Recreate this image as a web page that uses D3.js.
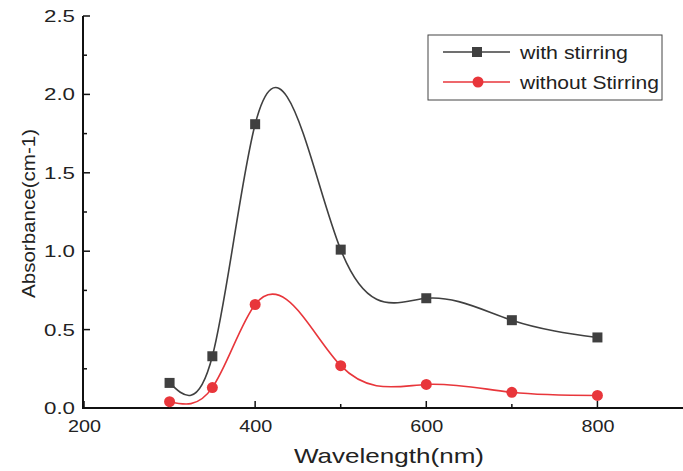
<!DOCTYPE html>
<html>
<head>
<meta charset="utf-8">
<script src="https://cdn.jsdelivr.net/npm/d3@7"></script>
<style>
  body { margin: 0; background: #fff; }
  svg { display: block; font-family: "Liberation Sans", Arial, sans-serif; }
</style>
</head>
<body>
<svg id="chart" width="683" height="471"></svg>
<script>
  'use strict';

  // wavelengths (nm)
  var wavelengths = [300, 350, 400, 500, 600, 700, 800];
  // absorbance values
  var withStirring = [0.16, 0.33, 1.81, 1.01, 0.70, 0.56, 0.45];
  var withoutStirring = [0.04, 0.13, 0.66, 0.27, 0.15, 0.10, 0.08];
  var seriesNames = ['with stirring', 'without Stirring'];
  var seriesColors = ['#404040', '#e8363b'];
  var xTicks = [200, 400, 600, 800];
  var yTicks = [0, 0.5, 1.0, 1.5, 2.0, 2.5];

  var svg = d3.select('#chart');

  var x = d3.scaleLinear().domain([200, 900]).range([84, 683]);
  var y = d3.scaleLinear().domain([0, 2.5]).range([408, 16]);

  var xMinor = d3.range(300, 900, 200);
  var yMinor = d3.range(0.25, 2.5, 0.5);

  var axisColor = '#111', textColor = '#222';

  // cubic spline through the points, as a function of x (like Origin's spline)
  function SplineX(context) { this._context = context; }
  SplineX.prototype = {
    areaStart: function () { this._line = 0; },
    areaEnd: function () { this._line = NaN; },
    lineStart: function () { this._px = []; this._py = []; },
    point: function (px, py) { this._px.push(+px); this._py.push(+py); },
    lineEnd: function () {
      var X = this._px, Y = this._py, n = X.length, ctx = this._context, i;
      if (!n) return;
      ctx.moveTo(X[0], Y[0]);
      if (n === 2) { ctx.lineTo(X[1], Y[1]); return; }
      var h = [], M = new Array(n).fill(0);
      for (i = 0; i < n - 1; i++) h.push(X[i + 1] - X[i]);
      // tridiagonal solve for second derivatives (natural ends)
      var a = [], b = [], c = [], r = [];
      for (i = 1; i < n - 1; i++) {
        a.push(h[i - 1]); b.push(2 * (h[i - 1] + h[i])); c.push(h[i]);
        r.push(6 * ((Y[i + 1] - Y[i]) / h[i] - (Y[i] - Y[i - 1]) / h[i - 1]));
      }
      var m = b.length;
      for (i = 1; i < m; i++) {
        var w = a[i] / b[i - 1];
        b[i] -= w * c[i - 1]; r[i] -= w * r[i - 1];
      }
      var sol = new Array(m);
      sol[m - 1] = r[m - 1] / b[m - 1];
      for (i = m - 2; i >= 0; i--) sol[i] = (r[i] - c[i] * sol[i + 1]) / b[i];
      for (i = 0; i < m; i++) M[i + 1] = sol[i];
      for (i = 0; i < n - 1; i++) {
        var d = (Y[i + 1] - Y[i]) / h[i];
        var s0 = d - h[i] * (2 * M[i] + M[i + 1]) / 6;
        var s1 = d + h[i] * (M[i] + 2 * M[i + 1]) / 6;
        ctx.bezierCurveTo(X[i] + h[i] / 3, Y[i] + s0 * h[i] / 3,
                          X[i + 1] - h[i] / 3, Y[i + 1] - s1 * h[i] / 3,
                          X[i + 1], Y[i + 1]);
      }
    }
  };
  function curveSplineX(context) { return new SplineX(context); }

  // x axis
  var gx = svg.append('g').attr('transform', 'translate(0,408)');
  gx.append('line').attr('x1', 83).attr('x2', 683).attr('stroke', axisColor).attr('stroke-width', 2);
  gx.selectAll('.maj').data(xTicks).enter().append('line')
    .attr('x1', function (d) { return x(d); }).attr('x2', function (d) { return x(d); })
    .attr('y1', 0).attr('y2', -7).attr('stroke', axisColor).attr('stroke-width', 1.5);
  gx.selectAll('.min').data(xMinor).enter().append('line')
    .attr('x1', function (d) { return x(d); }).attr('x2', function (d) { return x(d); })
    .attr('y1', 0).attr('y2', -4).attr('stroke', axisColor).attr('stroke-width', 1.5);
  gx.selectAll('text').data(xTicks).enter().append('text')
    .attr('x', function (d) { return x(d) - 16; }).attr('y', 24)
    .attr('font-size', 16.5).attr('fill', textColor)
    .attr('textLength', 33).attr('lengthAdjust', 'spacingAndGlyphs')
    .text(function (d) { return d; });

  // y axis
  var gy = svg.append('g').attr('transform', 'translate(83,0)');
  gy.append('line').attr('y1', 16).attr('y2', 409).attr('stroke', axisColor).attr('stroke-width', 2);
  gy.selectAll('.maj').data(yTicks).enter().append('line')
    .attr('y1', function (d) { return y(d); }).attr('y2', function (d) { return y(d); })
    .attr('x1', 0).attr('x2', 7).attr('stroke', axisColor).attr('stroke-width', 1.5);
  gy.selectAll('.min').data(yMinor).enter().append('line')
    .attr('y1', function (d) { return y(d); }).attr('y2', function (d) { return y(d); })
    .attr('x1', 0).attr('x2', 4).attr('stroke', axisColor).attr('stroke-width', 1.5);
  gy.selectAll('text').data(yTicks).enter().append('text')
    .attr('x', -39).attr('y', function (d) { return y(d) + 6; })
    .attr('font-size', 16.5).attr('fill', textColor)
    .attr('textLength', 31).attr('lengthAdjust', 'spacingAndGlyphs')
    .text(function (d) { return d.toFixed(1); });

  // axis titles
  svg.append('text').attr('x', 294).attr('y', 463)
    .attr('font-size', 21).attr('fill', textColor)
    .attr('textLength', 190).attr('lengthAdjust', 'spacingAndGlyphs')
    .text('Wavelength(nm)');
  svg.append('text').attr('transform', 'translate(35,298) rotate(-90)')
    .attr('font-size', 19).attr('fill', textColor)
    .attr('textLength', 169).attr('lengthAdjust', 'spacingAndGlyphs')
    .text('Absorbance(cm-1)');

  var line = d3.line()
    .x(function (d) { return x(d[0]); })
    .y(function (d) { return y(d[1]); })
    .curve(curveSplineX);

  var series = [withStirring, withoutStirring].map(function (vals) {
    return wavelengths.map(function (w, i) { return [w, vals[i]]; });
  });

  series.forEach(function (pts, si) {
    svg.append('path').datum(pts).attr('d', line)
      .attr('fill', 'none').attr('stroke', seriesColors[si]).attr('stroke-width', 1.6);
    if (si === 0) {
      svg.selectAll('.sq').data(pts).enter().append('rect')
        .attr('x', function (d) { return x(d[0]) - 5; })
        .attr('y', function (d) { return y(d[1]) - 5; })
        .attr('width', 10).attr('height', 10).attr('fill', seriesColors[0]);
    } else {
      svg.selectAll('.dot').data(pts).enter().append('circle')
        .attr('cx', function (d) { return x(d[0]); })
        .attr('cy', function (d) { return y(d[1]); })
        .attr('r', 5.5).attr('fill', seriesColors[1]);
    }
  });

  // legend
  var lg = svg.append('g');
  lg.append('rect').attr('x', 428).attr('y', 35).attr('width', 234).attr('height', 65)
    .attr('fill', '#fff').attr('stroke', '#444').attr('stroke-width', 1);
  seriesNames.forEach(function (name, i) {
    var cy = 52 + i * 30;
    lg.append('line').attr('x1', 443).attr('x2', 510).attr('y1', cy).attr('y2', cy)
      .attr('stroke', seriesColors[i]).attr('stroke-width', 1.6);
    if (i === 0) {
      lg.append('rect').attr('x', 472).attr('y', cy - 5).attr('width', 10).attr('height', 10)
        .attr('fill', seriesColors[0]);
    } else {
      lg.append('circle').attr('cx', 478).attr('cy', cy).attr('r', 5.5).attr('fill', seriesColors[1]);
    }
    lg.append('text').attr('x', 520).attr('y', cy + 7).attr('font-size', 19).attr('fill', textColor)
      .attr('textLength', i === 0 ? 108 : 139).attr('lengthAdjust', 'spacingAndGlyphs')
      .text(name);
  });
</script>
</body>
</html>
